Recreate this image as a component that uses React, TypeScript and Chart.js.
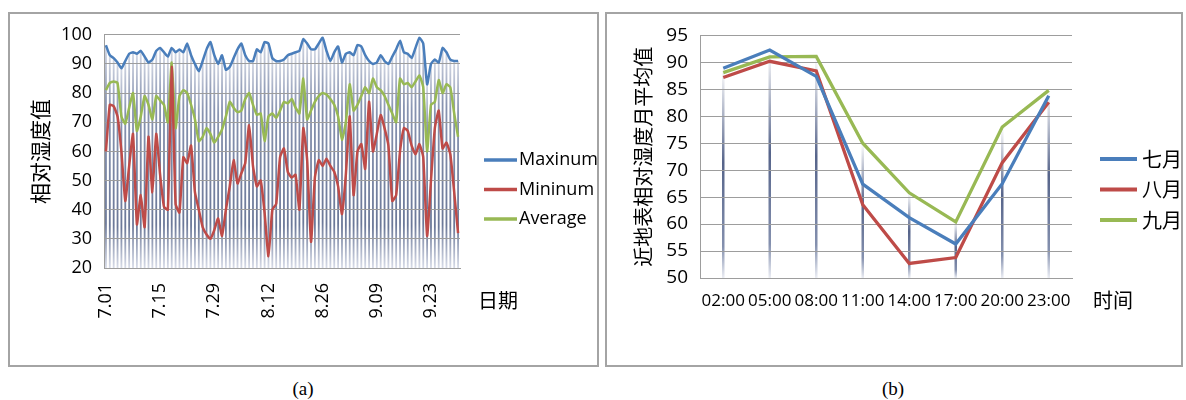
import React, { useEffect, useRef } from 'react';
import { Chart, registerables } from 'chart.js';

Chart.register(...registerables);

// ---------- Panel (a): daily relative humidity ----------
const dates = [
  '7.01','7.02','7.03','7.04','7.05','7.06','7.07','7.08','7.09','7.10',
  '7.11','7.12','7.13','7.14','7.15','7.16','7.17','7.18','7.19','7.20',
  '7.21','7.22','7.23','7.24','7.25','7.26','7.27','7.28','7.29','7.30','7.31',
  '8.01','8.02','8.03','8.04','8.05','8.06','8.07','8.08','8.09','8.10',
  '8.11','8.12','8.13','8.14','8.15','8.16','8.17','8.18','8.19','8.20',
  '8.21','8.22','8.23','8.24','8.25','8.26','8.27','8.28','8.29','8.30','8.31',
  '9.01','9.02','9.03','9.04','9.05','9.06','9.07','9.08','9.09','9.10',
  '9.11','9.12','9.13','9.14','9.15','9.16','9.17','9.18','9.19','9.20',
  '9.21','9.22','9.23','9.24','9.25','9.26','9.27','9.28','9.29','9.30',
];

const maxValues = [
  96.4, 93, 92, 90.5, 88.5, 91, 93.5, 94, 93.5, 94.5, 92.5, 90.5, 91.5, 94.5, 95.5, 94, 92.5, 95.5,
  94, 95, 94, 97, 93, 90, 87.5, 91, 95, 97.5, 93, 90, 93, 88, 89, 92, 95, 97, 93,
  91, 91, 95, 94, 97.5, 97, 92, 91, 91, 91.5, 93, 93.5, 94, 94.5, 98.5, 97, 95, 95,
  97, 99, 94.5, 91, 94, 96, 90.5, 93.5, 94, 93, 96.5, 96, 93, 91, 90, 90.5, 93, 91, 90,
  92.5, 95, 98, 94, 93.5, 92, 95.5, 99, 97, 83, 90, 91.5, 90.5, 95.5, 94, 91.5, 91, 91,
];

const minValues = [
  60, 76, 75.5, 72, 60, 43, 55, 66, 35, 45, 34, 65, 46, 66, 52, 41, 40, 89,
  42, 39, 58, 56, 62, 46, 40, 34, 31.5, 30, 33, 37, 31, 40, 48, 57, 49, 52.5, 56,
  69, 55, 48, 50, 39, 24, 40, 42, 58, 61, 53, 51, 52, 40, 68, 57, 29, 51,
  57, 55, 57.5, 55, 53, 48, 38.5, 52, 72, 45, 60, 62.5, 54, 77, 60, 66, 72.5, 68, 62,
  43, 45, 60, 68, 67, 62, 59, 62.5, 58, 31, 50, 68, 74, 61, 63, 59, 46, 32,
];

const avgValues = [
  81, 83.5, 84, 83.5, 72, 69.5, 75, 80, 67, 72, 79, 76, 71, 79, 77.5, 76, 70, 90.5,
  68, 79, 81, 80, 76, 71, 63.5, 65, 68, 66, 63, 65, 67.5, 72, 77, 75, 73.5, 74, 78,
  80, 76, 72.5, 73, 63.5, 72, 73, 71.5, 74, 77, 76.5, 78, 75, 73, 85, 71, 74, 77,
  79, 80, 79.5, 78, 76, 72, 64, 70, 83, 74, 76, 79, 82, 80, 85, 82, 81, 79, 76,
  73, 70, 85, 83, 83.5, 82, 84, 86, 82, 60, 76, 77, 84.5, 80, 83, 82, 73, 65,
];

// ---------- Panel (b): monthly mean by hour ----------
const hours = ['02:00', '05:00', '08:00', '11:00', '14:00', '17:00', '20:00', '23:00'];
const july = [88.9, 92.3, 87.4, 67.4, 61.2, 56.3, 67.5, 83.8];
const august = [87.2, 90.2, 88.4, 63.6, 52.7, 53.8, 71.4, 82.6];
const september = [88.1, 91.0, 91.1, 75.0, 65.8, 60.4, 78.0, 84.8];

const BLUE = '#4a7ebb';
const RED = '#be4b48';
const GREEN = '#98b954';
const GRID = '#9d9d9d';
const LATIN = "'Open Sans', 'Liberation Sans', sans-serif";
const CJK = "'Noto Sans CJK SC', 'Noto Sans', sans-serif";

// vertical gradient drop lines from the highest series down to the axis
const dropLines = {
  id: 'dropLines',
  beforeDraw(chart: any, _args: any, opts: any) {
    const { ctx, chartArea } = chart;
    const n = chart.data.labels.length;
    ctx.save();
    ctx.beginPath();
    ctx.rect(chartArea.left, chartArea.top, chartArea.right - chartArea.left, chartArea.bottom - chartArea.top);
    ctx.clip();
    for (let i = 0; i < n; i++) {
      let top = Infinity;
      let px = 0;
      chart.data.datasets.forEach((_ds: any, d: number) => {
        const el = chart.getDatasetMeta(d).data[i];
        if (el && el.y < top) {
          top = el.y;
          px = el.x;
        }
      });
      const bottom = chartArea.bottom;
      const g = ctx.createLinearGradient(0, top, 0, bottom);
      opts.stops.forEach((s: [number, string]) => g.addColorStop(s[0], s[1]));
      ctx.strokeStyle = g;
      ctx.lineWidth = opts.width;
      ctx.beginPath();
      ctx.moveTo(px, top);
      ctx.lineTo(px, bottom);
      ctx.stroke();
    }
    ctx.restore();
  },
};

// legend drawn as short coloured lines on the right of the plot
const lineLegend = {
  id: 'lineLegend',
  afterDraw(chart: any, _args: any, opts: any) {
    const { ctx, chartArea } = chart;
    const count = chart.data.datasets.length;
    ctx.save();
    chart.data.datasets.forEach((ds: any, i: number) => {
      const y = chart.height / 2 + opts.dy + (i - (count - 1) / 2) * opts.gap;
      const x0 = chartArea.right + opts.dx;
      ctx.strokeStyle = ds.borderColor;
      ctx.lineWidth = opts.lineWidth;
      ctx.beginPath();
      ctx.moveTo(x0, y);
      ctx.lineTo(x0 + opts.len, y);
      ctx.stroke();
      ctx.fillStyle = '#000';
      ctx.font = opts.font;
      ctx.textAlign = 'left';
      ctx.textBaseline = 'middle';
      ctx.fillText(ds.label, x0 + opts.len + opts.textGap, y);
    });
    ctx.restore();
  },
};

// x-axis title placed to the right of the tick labels
const sideTitle = {
  id: 'sideTitle',
  afterDraw(chart: any, _args: any, opts: any) {
    const { ctx, chartArea } = chart;
    ctx.save();
    ctx.fillStyle = '#000';
    ctx.font = opts.font;
    ctx.textAlign = 'left';
    ctx.textBaseline = 'middle';
    ctx.fillText(opts.text, chartArea.right + opts.dx, chartArea.bottom + opts.dy);
    ctx.restore();
  },
};

function seriesA(label: string, data: number[], color: string) {
  return { label, data, borderColor: color, backgroundColor: color, borderWidth: 2.5, pointRadius: 0, tension: 0.15, fill: false };
}
function seriesB(label: string, data: number[], color: string) {
  return { label, data, borderColor: color, backgroundColor: color, borderWidth: 3.3, pointRadius: 0, tension: 0, fill: false };
}

export default function App() {
  const refA = useRef<HTMLCanvasElement>(null);
  const refB = useRef<HTMLCanvasElement>(null);

  useEffect(() => {
    const chartA = new Chart(refA.current as HTMLCanvasElement, {
      type: 'line',
      data: {
        labels: dates,
        datasets: [
          seriesA('Maxinum', maxValues, BLUE),
          seriesA('Mininum', minValues, RED),
          seriesA('Average', avgValues, GREEN),
        ],
      },
      options: {
        responsive: false,
        animation: false,
        layout: { padding: { left: 8, right: 139, top: 19, bottom: 10 } },
        scales: {
          x: {
            type: 'category',
            offset: true,
            grid: { display: false, drawTicks: false },
            border: { display: true, color: GRID },
            ticks: {
              autoSkip: false,
              minRotation: 90,
              maxRotation: 90,
              padding: 15,
              color: '#000',
              font: { family: LATIN, size: 18 },
              callback: (_v: any, i: number) => (i % 14 === 0 ? dates[i] : ''),
            },
            afterFit: (s: any) => { s.height = 89; },
          },
          y: {
            min: 20,
            max: 100,
            ticks: { stepSize: 10, padding: 12, color: '#000', font: { family: LATIN, size: 18 } },
            grid: { color: GRID, drawTicks: false },
            border: { display: true, color: GRID },
            title: {
              display: true,
              text: '相对湿度值',
              color: '#000',
              font: { family: CJK, size: 21 },
              padding: { top: 11, bottom: 0 },
            },
            afterFit: (s: any) => { s.width = 88; },
          },
        },
        plugins: {
          legend: { display: false },
          tooltip: { enabled: false },
          dropLines: {
            width: 1.8,
            stops: [[0, '#d3d8e4'], [0.25, '#8793b0'], [0.8, '#6b7898'], [1, '#d8dce8']],
          },
          lineLegend: { dx: 24, dy: 0, len: 33, textGap: 2, gap: 29.5, lineWidth: 3.5, font: `18px ${LATIN}` },
          sideTitle: { text: '日期', dx: 18, dy: 32, font: `20px ${CJK}` },
        } as any,
      },
      plugins: [dropLines, lineLegend, sideTitle],
    } as any);

    const chartB = new Chart(refB.current as HTMLCanvasElement, {
      type: 'line',
      data: {
        labels: hours,
        datasets: [
          seriesB('七月', july, BLUE),
          seriesB('八月', august, RED),
          seriesB('九月', september, GREEN),
        ],
      },
      options: {
        responsive: false,
        animation: false,
        layout: { padding: { left: 8, right: 111, top: 19, bottom: 10 } },
        scales: {
          x: {
            type: 'category',
            offset: true,
            grid: { display: false, drawTicks: false },
            border: { display: true, color: GRID },
            ticks: {
              autoSkip: false,
              maxRotation: 0,
              minRotation: 0,
              padding: 13,
              color: '#000',
              font: { family: LATIN, size: 17 },
            },
            afterFit: (s: any) => { s.height = 79; },
          },
          y: {
            min: 50,
            max: 95,
            ticks: { stepSize: 5, padding: 12, color: '#000', font: { family: LATIN, size: 19 } },
            grid: { color: GRID, drawTicks: false },
            border: { display: true, color: GRID },
            title: {
              display: true,
              text: '近地表相对湿度月平均值',
              color: '#000',
              font: { family: CJK, size: 20 },
              padding: { top: 18, bottom: 0 },
            },
            afterFit: (s: any) => { s.width = 87; },
          },
        },
        plugins: {
          legend: { display: false },
          tooltip: { enabled: false },
          dropLines: {
            width: 2.5,
            stops: [[0, '#ffffff'], [0.45, '#56648a'], [0.85, '#8490ae'], [1, '#eceef4']],
          },
          lineLegend: { dx: 28, dy: 0, len: 37, textGap: 5, gap: 30.5, lineWidth: 4, font: `20px ${CJK}` },
          sideTitle: { text: '时间', dx: 21, dy: 22, font: `20px ${CJK}` },
        } as any,
      },
      plugins: [dropLines, lineLegend, sideTitle],
    } as any);

    return () => {
      chartA.destroy();
      chartB.destroy();
    };
  }, []);

  const panelBorder: React.CSSProperties = {
    position: 'absolute',
    boxSizing: 'border-box',
    border: '2px solid #a4a4a4',
    pointerEvents: 'none',
  };
  const caption: React.CSSProperties = {
    position: 'absolute',
    top: 378,
    width: 60,
    textAlign: 'center',
    fontFamily: "'Liberation Serif', 'Times New Roman', serif",
    fontSize: 19,
    lineHeight: '22px',
    color: '#000',
  };

  return (
    <div style={{ position: 'fixed', left: 0, top: 0, width: 1186, height: 400, background: '#fff', overflow: 'hidden' }}>
      <canvas ref={refA} width={591} height={355} style={{ position: 'absolute', left: 8, top: 12 }} />
      <div style={{ ...panelBorder, left: 8, top: 12, width: 591, height: 355 }} />
      <canvas ref={refB} width={578} height={355} style={{ position: 'absolute', left: 605, top: 12 }} />
      <div style={{ ...panelBorder, left: 605, top: 12, width: 578, height: 355 }} />
      <div style={{ ...caption, left: 273 }}>(a)</div>
      <div style={{ ...caption, left: 863 }}>(b)</div>
    </div>
  );
}
